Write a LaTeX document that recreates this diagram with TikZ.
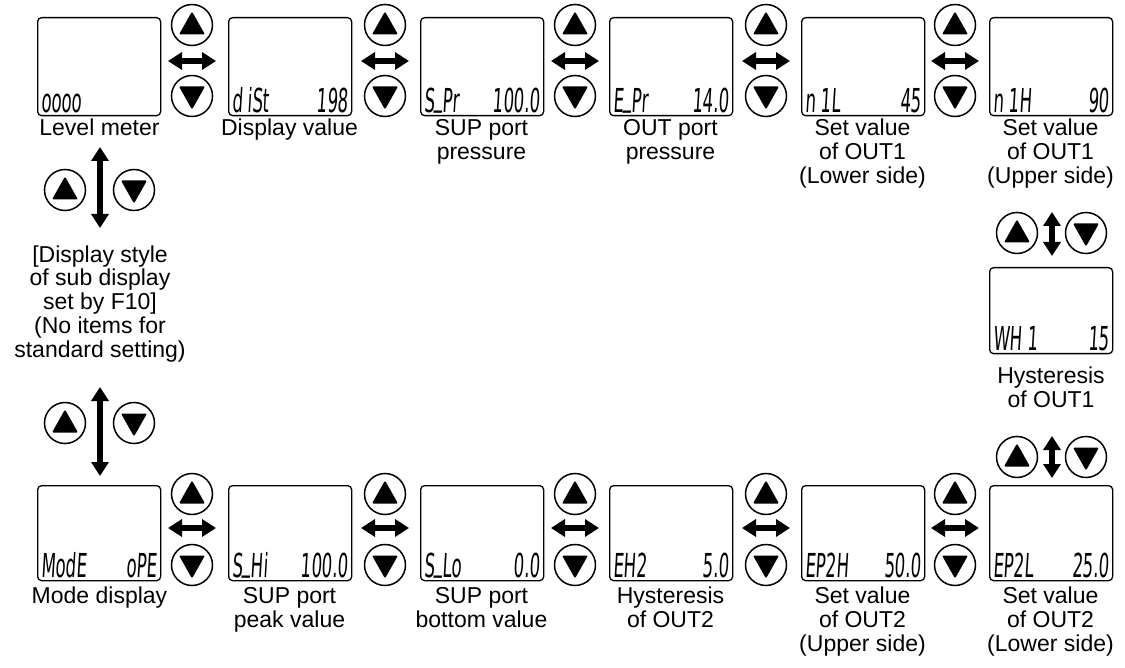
\documentclass[tikz,border=0pt]{standalone}
\usepackage{fontspec}
\setmainfont{Liberation Sans}
\newfontfamily\lcdfont[FakeStretch=0.5,FakeSlant=0.06]{DejaVu Sans}
\usetikzlibrary{arrows.meta}
\tikzset{
  disp/.style={draw,line width=1.3pt,rounded corners=4pt,minimum width=123pt,minimum height=98pt,inner sep=0pt,anchor=north west},
  lcdl/.style={anchor=base west,inner sep=0pt,font=\lcdfont\fontsize{33}{33}\selectfont},
  lcdr/.style={anchor=base east,inner sep=0pt,font=\lcdfont\fontsize{33}{33}\selectfont},
  btn/.style={draw,circle,line width=1.5pt,minimum size=41pt,inner sep=0pt},
  lbl/.style={anchor=base,align=center,inner sep=0pt,font=\fontsize{23}{24}\selectfont},
  dbl/.style={line width=5.5pt,{Triangle[width=17pt,length=14pt]}-{Triangle[width=17pt,length=14pt]}}
}
\newcommand\btnup[3]{\node[btn] (#1) at (#2,#3) {};
  \fill[rounded corners=1.2pt] ([shift={(0,-13.5)}]#1.center) -- ([shift={(13,9.5)}]#1.center) -- ([shift={(-13,9.5)}]#1.center) -- cycle;}
\newcommand\btndn[3]{\node[btn] (#1) at (#2,#3) {};
  \fill[rounded corners=1.2pt] ([shift={(0,13.5)}]#1.center) -- ([shift={(13,-9.5)}]#1.center) -- ([shift={(-13,-9.5)}]#1.center) -- cycle;}
\newcommand\us{\raisebox{7pt}{\_}}
\begin{document}
\begin{tikzpicture}[x=1pt,y=-1pt]
\useasboundingbox (0,0) rectangle (1125,668);
% displays
\foreach \i/\x in {1/37,2/228,3/420,4/609,5/801,6/989}{
  \node[disp] (t\i) at (\x,17) {};
  \node[disp,minimum height=95pt] (b\i) at (\x,485) {};
}
\node[disp,minimum height=86pt] (wh) at (989,267) {};
% LCD texts
\newcommand\lcd[3]{\node[lcdl] at ([shift={(4,-4)}]#1.south west) {#2};
  \node[lcdr] at ([shift={(-4,-4)}]#1.south east) {#3};}
\lcd{t1}{oooo}{}
\lcd{t2}{d iSt}{198}
\lcd{t3}{S\us Pr}{100.0}
\lcd{t4}{E\us Pr}{14.0}
\lcd{t5}{n 1L}{45}
\lcd{t6}{n 1H}{90}
\lcd{wh}{WH 1}{15}
\lcd{b1}{ModE}{oPE}
\lcd{b2}{S\us Hi}{100.0}
\lcd{b3}{S\us Lo}{0.0}
\lcd{b4}{EH2}{5.0}
\lcd{b5}{EP2H}{50.0}
\lcd{b6}{EP2L}{25.0}
% horizontal buttons and arrows
\foreach \k/\bx in {1/192,2/385,3/575,4/766,5/955}{
  \btnup{tu\k}{\bx}{25}
  \btndn{td\k}{\bx}{96}
  \coordinate (tal\k) at ({\bx-24},61);
  \coordinate (tar\k) at ({\bx+24},61);
  \draw[dbl] (tal\k) -- (tar\k);
  \btnup{bu\k}{\bx}{494}
  \btndn{bd\k}{\bx}{565}
  \coordinate (bal\k) at ({\bx-24},528);
  \coordinate (bar\k) at ({\bx+24},528);
  \draw[dbl] (bal\k) -- (bar\k);
}
% left column
\coordinate (l1a) at (100,147); \coordinate (l1b) at (100,228);
\draw[dbl] (l1a) -- (l1b);
\btnup{lu1}{65}{190} \btndn{ld1}{134}{190}
\coordinate (l2a) at (100,387); \coordinate (l2b) at (100,476);
\draw[dbl] (l2a) -- (l2b);
\btnup{lu2}{65}{423} \btndn{ld2}{134}{423}
% right column
\coordinate (r1a) at (1052,212); \coordinate (r1b) at (1052,256);
\draw[dbl] (r1a) -- (r1b);
\btnup{ru1}{1017}{233} \btndn{rd1}{1086}{233}
\coordinate (r2a) at (1052,436); \coordinate (r2b) at (1052,478);
\draw[dbl] (r2a) -- (r2b);
\btnup{ru2}{1017}{457} \btndn{rd2}{1086}{457}
% labels (anchor base = baseline of the last line)
\node[lbl] (lt1) at (99.5,136) {Level meter};
\node[lbl] (lt2) at (289.5,136) {Display value};
\node[lbl] (lt3) at (481.5,160) {SUP port\\pressure};
\node[lbl] (lt4) at (670.5,160) {OUT port\\pressure};
\node[lbl] (lt5) at (862.5,184) {Set value\\of OUT1\\(Lower side)};
\node[lbl] (lt6) at (1050.5,184) {Set value\\of OUT1\\(Upper side)};
\node[lbl] (lwh) at (1051,407) {Hysteresis\\of OUT1};
\node[lbl] (lmid) at (100,358) {[Display style\\of sub display\\set by F10]\\(No items for\\standard setting)};
\node[lbl] (lb1) at (99.5,603) {Mode display};
\node[lbl] (lb2) at (289.5,627) {SUP port\\peak value};
\node[lbl] (lb3) at (481.5,627) {SUP port\\bottom value};
\node[lbl] (lb4) at (670.5,627) {Hysteresis\\of OUT2};
\node[lbl] (lb5) at (862.5,651) {Set value\\of OUT2\\(Upper side)};
\node[lbl] (lb6) at (1050.5,651) {Set value\\of OUT2\\(Lower side)};
\end{tikzpicture}
\end{document}
